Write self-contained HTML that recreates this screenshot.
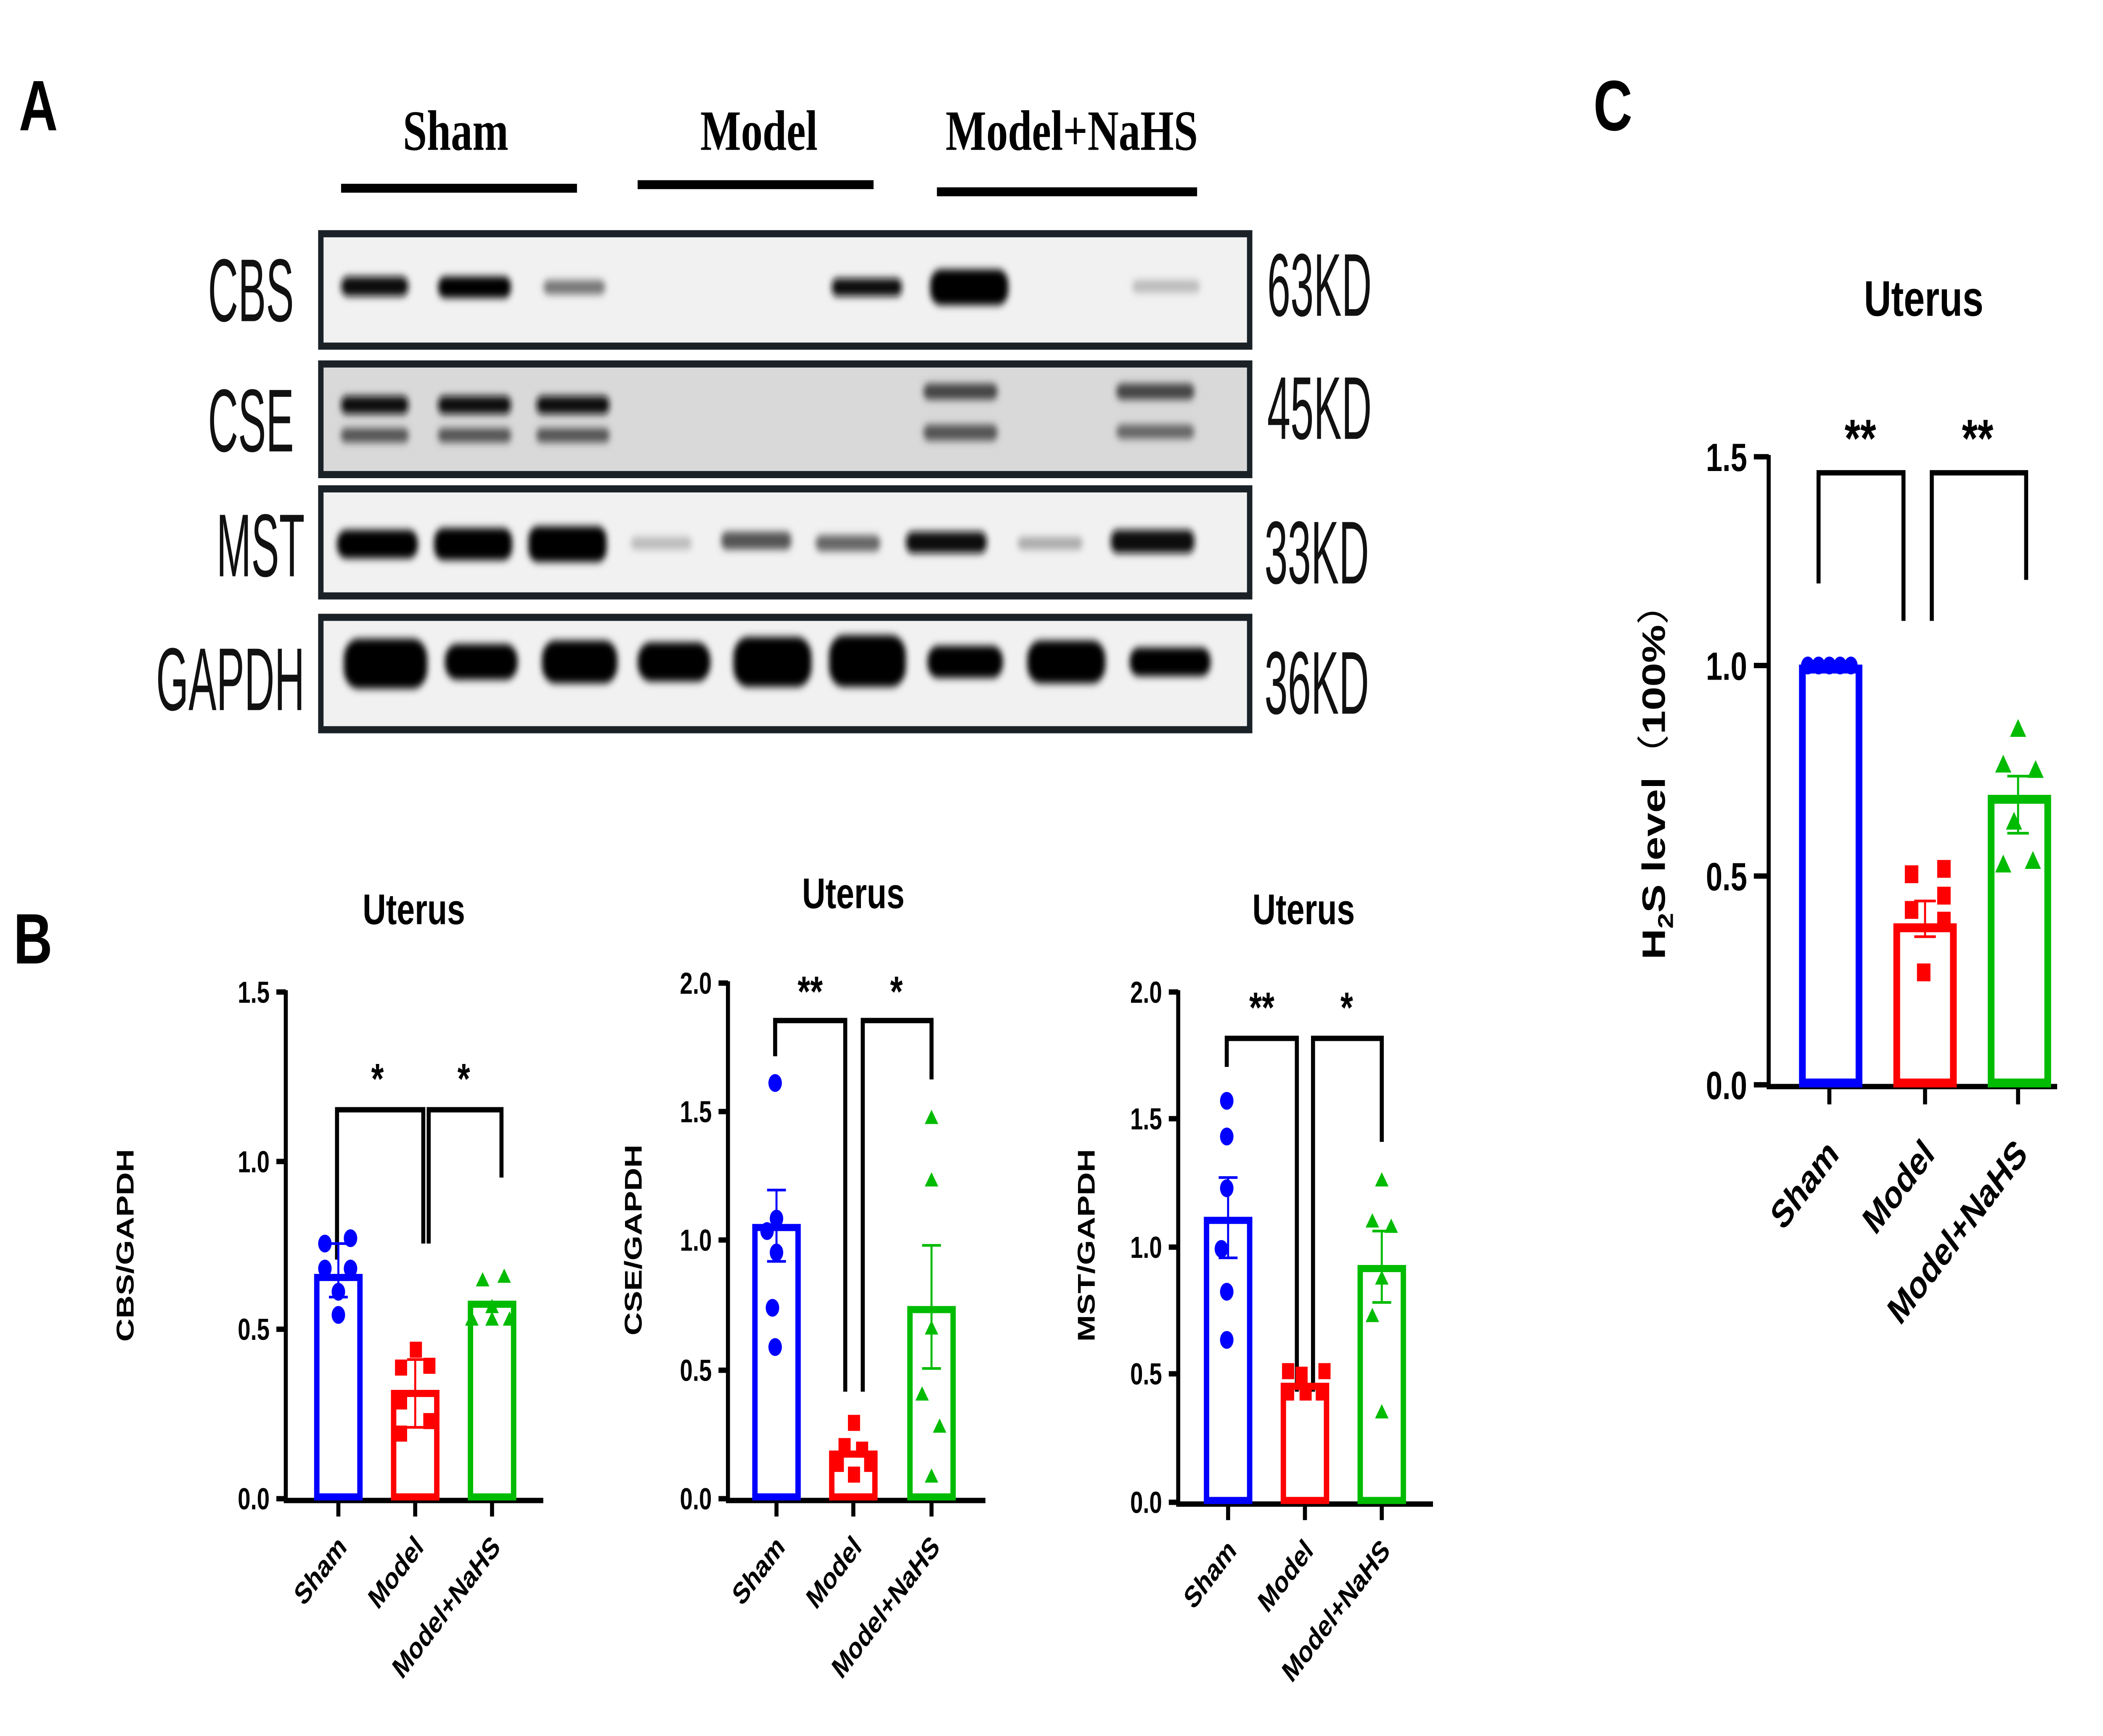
<!DOCTYPE html>
<html><head><meta charset="utf-8"><style>html,body{margin:0;padding:0;background:#fff;overflow:hidden;width:100%;height:100%}svg{display:block;width:100vw;height:100vh;position:absolute;left:0;top:0}</style></head>
<body>
<svg viewBox="0 0 1560 973" preserveAspectRatio="none" xmlns="http://www.w3.org/2000/svg" font-family="Liberation Sans, Arial, sans-serif">
<defs>
<filter id="bl" x="-20%" y="-100%" width="140%" height="300%"><feGaussianBlur stdDeviation="2.2"/></filter>
</defs>
<rect width="1560" height="973" fill="#fff"/>
<!-- Panel A -->
<text x="14" y="73" font-size="40" font-weight="bold">A</text>
<g font-family="Liberation Serif, serif" font-weight="bold" font-size="32" text-anchor="middle">
<text x="338" y="84">Sham</text><text x="563" y="84">Model</text><text x="795" y="84">Model+NaHS</text></g>
<rect x="253" y="103" width="175" height="5"/><rect x="473" y="101" width="175" height="5"/><rect x="695" y="105" width="193" height="5"/>
<g fill="#f1f1f1" stroke="#1a2228" stroke-width="4">
<rect x="238" y="131" width="689" height="63"/>
<rect x="238" y="204" width="689" height="62" fill="#d9d9d9"/>
<rect x="238" y="274" width="689" height="60"/>
<rect x="238" y="346" width="689" height="63"/>
</g>
<g filter="url(#bl)">
<rect x="253" y="155" width="50" height="11" rx="5" fill="#111"/>
<rect x="325" y="155" width="54" height="12" rx="5" fill="#000"/>
<rect x="403" y="157" width="46" height="8" rx="4" fill="#777"/>
<rect x="617" y="156" width="52" height="10" rx="4" fill="#111"/>
<rect x="690" y="151" width="58" height="20" rx="8" fill="#000"/>
<rect x="840" y="157" width="50" height="7" rx="3" fill="#bbb"/>
<rect x="253" y="222" width="50" height="10" rx="4" fill="#111"/><rect x="253" y="240" width="50" height="8" rx="3" fill="#555"/>
<rect x="325" y="222" width="54" height="10" rx="4" fill="#111"/><rect x="325" y="240" width="54" height="8" rx="3" fill="#555"/>
<rect x="398" y="222" width="54" height="10" rx="4" fill="#111"/><rect x="398" y="240" width="54" height="8" rx="3" fill="#555"/>
<rect x="685" y="215" width="55" height="9" rx="4" fill="#444"/><rect x="685" y="238" width="55" height="9" rx="4" fill="#555"/>
<rect x="828" y="215" width="58" height="9" rx="4" fill="#444"/><rect x="828" y="238" width="58" height="8" rx="4" fill="#666"/>
<rect x="250" y="297" width="60" height="16" rx="7" fill="#000"/>
<rect x="322" y="296" width="58" height="18" rx="7" fill="#000"/>
<rect x="392" y="295" width="58" height="20" rx="7" fill="#000"/>
<rect x="468" y="301" width="45" height="7" rx="3" fill="#bbb"/>
<rect x="535" y="298" width="52" height="10" rx="4" fill="#555"/>
<rect x="605" y="300" width="48" height="9" rx="4" fill="#666"/>
<rect x="672" y="298" width="60" height="12" rx="5" fill="#111"/>
<rect x="755" y="301" width="48" height="7" rx="3" fill="#aaa"/>
<rect x="824" y="297" width="62" height="13" rx="5" fill="#111"/>
<rect x="255" y="358" width="62" height="28" rx="11" fill="#000"/>
<rect x="330" y="361" width="54" height="20" rx="9" fill="#000"/>
<rect x="402" y="359" width="56" height="24" rx="10" fill="#000"/>
<rect x="473" y="360" width="54" height="22" rx="10" fill="#000"/>
<rect x="544" y="357" width="58" height="28" rx="11" fill="#000"/>
<rect x="615" y="356" width="57" height="29" rx="11" fill="#000"/>
<rect x="688" y="362" width="56" height="18" rx="8" fill="#000"/>
<rect x="762" y="359" width="58" height="24" rx="10" fill="#000"/>
<rect x="838" y="363" width="60" height="16" rx="7" fill="#000"/>
</g>
<g font-size="50" fill="#111">
<text transform="translate(218,180) scale(0.62,1)" text-anchor="end">CBS</text>
<text transform="translate(218,253) scale(0.62,1)" text-anchor="end">CSE</text>
<text transform="translate(226,323) scale(0.62,1)" text-anchor="end">MST</text>
<text transform="translate(226,398) scale(0.62,1)" text-anchor="end">GAPDH</text>
<text transform="translate(940,177) scale(0.62,1)">63KD</text>
<text transform="translate(940,246) scale(0.62,1)">45KD</text>
<text transform="translate(938,327) scale(0.62,1)">33KD</text>
<text transform="translate(938,400) scale(0.62,1)">36KD</text>
</g>

<!-- Panel B -->
<text x="10" y="540" font-size="40" font-weight="bold">B</text>
<g font-weight="bold">
<text x="307" y="518" font-size="24" text-anchor="middle">Uterus</text>
<text transform="translate(99,698) rotate(-90)" font-size="18" text-anchor="middle">CBS/GAPDH</text>
<g stroke="#000" stroke-width="3" fill="none">
<path d="M212 555V841H403"/>
<path d="M205 556H212M205 651H212M205 745H212M205 840H212"/>
<path d="M251 841V850M308 841V850M365 841V850"/>
<path d="M250 706V622H314V697M318 697V622H372V660"/>
</g>
<g font-size="17" text-anchor="end"><text x="200" y="562">1.5</text><text x="200" y="657">1.0</text><text x="200" y="751">0.5</text><text x="200" y="846">0.0</text></g>
<text x="280" y="613" font-size="24" text-anchor="middle">*</text><text x="344" y="613" font-size="24" text-anchor="middle">*</text>
<rect x="235" y="716" width="32" height="123" fill="none" stroke="#00f" stroke-width="4"/>
<rect x="292" y="781" width="32" height="58" fill="none" stroke="#f00" stroke-width="4"/>
<rect x="349" y="731" width="32" height="108" fill="none" stroke="#0b0" stroke-width="4"/>
<g fill="#00f"><circle cx="241" cy="697" r="5"/><circle cx="260" cy="694" r="5"/><circle cx="241" cy="711" r="5"/><circle cx="260" cy="711" r="5"/><circle cx="251" cy="724" r="5"/><circle cx="251" cy="737" r="5"/></g>
<path d="M251 697V727M244 697H258M244 727H258" stroke="#00f" stroke-width="1.5"/>
<g fill="#f00"><rect x="304" y="752" width="9" height="9"/><rect x="293" y="762" width="9" height="9"/><rect x="314" y="761" width="9" height="9"/><rect x="293" y="781" width="9" height="9"/><rect x="314" y="792" width="9" height="9"/><rect x="293" y="799" width="9" height="9"/></g>
<path d="M308 762V800M302 762H314M302 800H314" stroke="#f00" stroke-width="1.5"/>
<g fill="#0b0"><path d="M358 713l5 8h-10zM374 711l5 8h-10zM365 728l5 8h-10zM350 735l5 8h-10zM365 735l5 8h-10zM378 735l5 8h-10z"/></g>
<g font-size="17" text-anchor="end">
<text transform="translate(258,868) rotate(-45)">Sham</text>
<text transform="translate(315,868) rotate(-45)">Model</text>
<text transform="translate(372,868) rotate(-45)">Model+NaHS</text>
</g>

<text x="633" y="509" font-size="24" text-anchor="middle">Uterus</text>
<text transform="translate(476,695) rotate(-90)" font-size="18" text-anchor="middle">CSE/GAPDH</text>
<g stroke="#000" stroke-width="3" fill="none">
<path d="M540 550V841H731"/>
<path d="M533 551H540M533 623H540M533 695H540M533 768H540M533 840H540"/>
<path d="M576 841V850M633 841V850M691 841V850"/>
<path d="M575 592V572H627V780M640 780V572H691V605"/>
</g>
<g font-size="17" text-anchor="end"><text x="528" y="557">2.0</text><text x="528" y="629">1.5</text><text x="528" y="701">1.0</text><text x="528" y="774">0.5</text><text x="528" y="846">0.0</text></g>
<text x="601" y="564" font-size="24" text-anchor="middle">**</text><text x="665" y="564" font-size="24" text-anchor="middle">*</text>
<rect x="560" y="688" width="32" height="151" fill="none" stroke="#00f" stroke-width="4"/>
<rect x="617" y="815" width="32" height="24" fill="none" stroke="#f00" stroke-width="4"/>
<rect x="675" y="734" width="32" height="105" fill="none" stroke="#0b0" stroke-width="4"/>
<g fill="#00f"><circle cx="575" cy="607" r="5"/><circle cx="576" cy="683" r="5"/><circle cx="569" cy="690" r="5"/><circle cx="576" cy="702" r="5"/><circle cx="573" cy="733" r="5"/><circle cx="575" cy="755" r="5"/></g>
<path d="M576 667V707M569 667H583M569 707H583" stroke="#00f" stroke-width="1.5"/>
<g fill="#f00"><rect x="629" y="793" width="9" height="9"/><rect x="622" y="806" width="9" height="9"/><rect x="635" y="808" width="9" height="9"/><rect x="617" y="816" width="9" height="9"/><rect x="641" y="816" width="9" height="9"/><rect x="629" y="822" width="9" height="9"/></g>
<g fill="#0b0"><path d="M691 622l5 8h-10zM691 657l5 8h-10zM691 740l5 8h-10zM684 777l5 8h-10zM697 795l5 8h-10zM691 823l5 8h-10z"/></g>
<path d="M691 698V767M684 698H698M684 767H698" stroke="#0b0" stroke-width="1.5"/>
<g font-size="17" text-anchor="end">
<text transform="translate(583,868) rotate(-45)">Sham</text>
<text transform="translate(640,868) rotate(-45)">Model</text>
<text transform="translate(698,868) rotate(-45)">Model+NaHS</text>
</g>

<text x="967" y="518" font-size="24" text-anchor="middle">Uterus</text>
<text transform="translate(812,698) rotate(-90)" font-size="18" text-anchor="middle">MST/GAPDH</text>
<g stroke="#000" stroke-width="3" fill="none">
<path d="M874 555V843H1063"/>
<path d="M867 556H874M867 627H874M867 699H874M867 770H874M867 842H874"/>
<path d="M911 843V852M968 843V852M1025 843V852"/>
<path d="M910 598V582H962V780M974 780V582H1025V640"/>
</g>
<g font-size="17" text-anchor="end"><text x="862" y="562">2.0</text><text x="862" y="633">1.5</text><text x="862" y="705">1.0</text><text x="862" y="776">0.5</text><text x="862" y="848">0.0</text></g>
<text x="936" y="573" font-size="24" text-anchor="middle">**</text><text x="999" y="573" font-size="24" text-anchor="middle">*</text>
<rect x="895" y="684" width="32" height="157" fill="none" stroke="#00f" stroke-width="4"/>
<rect x="952" y="777" width="32" height="64" fill="none" stroke="#f00" stroke-width="4"/>
<rect x="1009" y="711" width="32" height="130" fill="none" stroke="#0b0" stroke-width="4"/>
<g fill="#00f"><circle cx="910" cy="617" r="5"/><circle cx="910" cy="637" r="5"/><circle cx="910" cy="666" r="5"/><circle cx="906" cy="700" r="5"/><circle cx="910" cy="724" r="5"/><circle cx="910" cy="751" r="5"/></g>
<path d="M911 660V705M904 660H918M904 705H918" stroke="#00f" stroke-width="1.5"/>
<g fill="#f00"><rect x="951" y="764" width="9" height="9"/><rect x="961" y="766" width="9" height="9"/><rect x="978" y="764" width="9" height="9"/><rect x="951" y="776" width="9" height="9"/><rect x="964" y="776" width="9" height="9"/><rect x="976" y="776" width="9" height="9"/></g>
<g fill="#0b0"><path d="M1025 657l5 8h-10zM1018 680l5 8h-10zM1032 683l5 8h-10zM1025 712l5 8h-10zM1018 733l5 8h-10zM1025 787l5 8h-10z"/></g>
<path d="M1025 690V730M1018 690H1032M1018 730H1032" stroke="#0b0" stroke-width="1.5"/>
<g font-size="17" text-anchor="end">
<text transform="translate(918,870) rotate(-45)">Sham</text>
<text transform="translate(975,870) rotate(-45)">Model</text>
<text transform="translate(1032,870) rotate(-45)">Model+NaHS</text>
</g>
</g>

<!-- Panel C -->
<text x="1182" y="73" font-size="40" font-weight="bold">C</text>
<g font-weight="bold">
<text x="1427" y="177" font-size="28" text-anchor="middle">Uterus</text>
<text transform="translate(1235,432) rotate(-90)" font-size="24" text-anchor="middle">H<tspan font-size="16" dy="6">2</tspan><tspan dy="-6">S level</tspan><tspan font-family="Noto Sans CJK SC, sans-serif" font-weight="normal">（</tspan>100%<tspan font-family="Noto Sans CJK SC, sans-serif" font-weight="normal">）</tspan></text>
<g stroke="#000" stroke-width="3" fill="none">
<path d="M1312 255V609H1526"/>
<path d="M1301 256H1312M1301 373H1312M1301 491H1312M1301 608H1312"/>
<path d="M1357 609V619M1428 609V619M1497 609V619"/>
<path d="M1349 327V265H1412V348M1433 348V265H1503V325"/>
</g>
<g font-size="22" text-anchor="end"><text x="1296" y="264">1.5</text><text x="1296" y="381">1.0</text><text x="1296" y="499">0.5</text><text x="1296" y="616">0.0</text></g>
<text x="1380" y="256" font-size="30" text-anchor="middle">**</text><text x="1467" y="256" font-size="30" text-anchor="middle">**</text>
<rect x="1337" y="375" width="42" height="232" fill="none" stroke="#00f" stroke-width="5"/>
<rect x="1407" y="520" width="42" height="87" fill="none" stroke="#f00" stroke-width="5"/>
<rect x="1477" y="448" width="42" height="159" fill="none" stroke="#0b0" stroke-width="5"/>
<g fill="#00f"><circle cx="1341" cy="373" r="5"/><circle cx="1349" cy="373" r="5"/><circle cx="1357" cy="373" r="5"/><circle cx="1365" cy="373" r="5"/><circle cx="1373" cy="373" r="5"/></g>
<g fill="#f00"><rect x="1413" y="485" width="10" height="10"/><rect x="1437" y="482" width="10" height="10"/><rect x="1437" y="497" width="10" height="10"/><rect x="1413" y="505" width="10" height="10"/><rect x="1437" y="511" width="10" height="10"/><rect x="1422" y="540" width="10" height="10"/></g>
<path d="M1428 505V525M1420 505H1436M1420 525H1436" stroke="#f00" stroke-width="1.5"/>
<g fill="#0b0"><path d="M1497 403l6 10h-12zM1486 423l6 10h-12zM1510 426l6 10h-12zM1494 455l6 10h-12zM1486 479l6 10h-12zM1508 477l6 10h-12z"/></g>
<path d="M1497 435V467M1489 435H1505M1489 467H1505" stroke="#0b0" stroke-width="1.5"/>
<g font-size="22" text-anchor="end">
<text transform="translate(1365,648) rotate(-45)">Sham</text>
<text transform="translate(1436,648) rotate(-45)">Model</text>
<text transform="translate(1505,648) rotate(-45)">Model+NaHS</text>
</g>
</g>
</svg>
</body></html>
